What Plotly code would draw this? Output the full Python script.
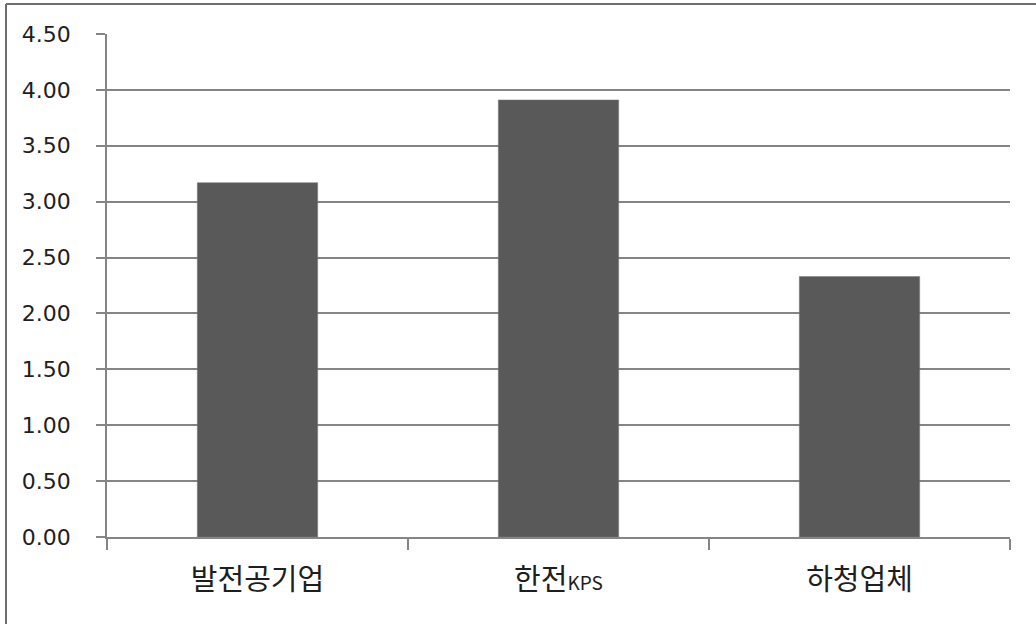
import plotly.graph_objects as go

categories = ["발전공기업", "한전<span style='font-size:19px'>KPS</span>", "하청업체"]
values = [3.17, 3.91, 2.33]
y_ticks = [0, 0.5, 1.0, 1.5, 2.0, 2.5, 3.0, 3.5, 4.0, 4.5]
y_tick_labels = ["%.2f" % v for v in y_ticks]

W, H = 1036, 624
ml, mr, mt, mb = 107, 26, 34, 87
pw = W - ml - mr
ph = H - mt - mb

def px_to_paper_x(px):
    return (px - ml) / pw

def px_to_paper_y(py):
    return (H - mb - py) / ph

fig = go.Figure()
fig.add_trace(go.Bar(
    x=categories, y=values,
    marker=dict(color="#595959", line=dict(color="#7a7a7a", width=0.5)),
    width=0.4,
))

fig.update_layout(
    width=W, height=H,
    margin=dict(l=ml, r=mr, t=mt, b=mb),
    paper_bgcolor="white", plot_bgcolor="white",
    showlegend=False,
    font=dict(family="Noto Sans CJK KR, DejaVu Sans, sans-serif", color="#1e1e1e"),
    bargap=0.6,
)
fig.update_yaxes(
    range=[0, 4.5], tickvals=y_ticks, ticktext=y_tick_labels,
    showgrid=True, gridcolor="#858585", gridwidth=1.6,
    showline=True, linecolor="#858585", linewidth=1.6,
    ticks="outside", ticklen=9, tickcolor="#858585", tickwidth=1.6,
    ticklabelstandoff=21,
    tickfont=dict(family="DejaVu Sans", size=22, color="#1e1e1e"),
    zeroline=False,
)
fig.update_xaxes(
    showline=True, linecolor="#858585", linewidth=1.6,
    ticks="outside", ticklen=11, tickcolor="#858585", tickwidth=1.6,
    tickson="boundaries",
    ticklabelstandoff=16,
    tickfont=dict(family="Noto Sans CJK KR", size=29, color="#1e1e1e"),
)

# outer border (top and left edges visible in the reference)
bx = px_to_paper_x(6)
by = px_to_paper_y(4)
fig.add_shape(type="line", xref="paper", yref="paper",
              x0=bx, x1=px_to_paper_x(1040), y0=by, y1=by,
              line=dict(color="#6e6e6e", width=2))
fig.add_shape(type="line", xref="paper", yref="paper",
              x0=bx, x1=bx, y0=by, y1=px_to_paper_y(630),
              line=dict(color="#6e6e6e", width=2))

fig.write_html("out.html")
